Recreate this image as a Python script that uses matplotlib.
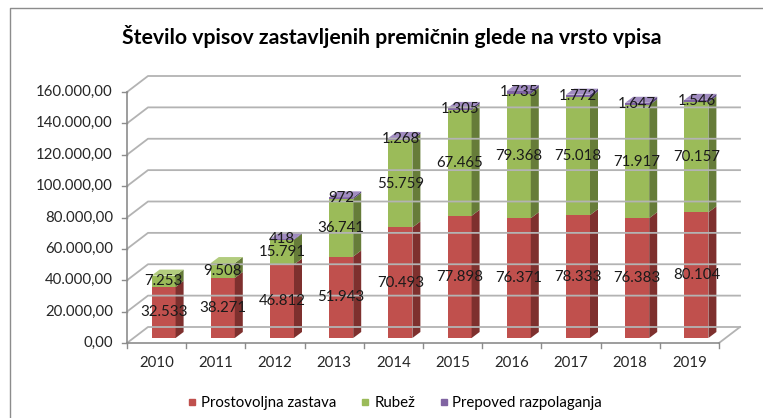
import matplotlib
matplotlib.use("Agg")
import matplotlib.pyplot as plt
from matplotlib.patches import Polygon
from matplotlib.lines import Line2D

years = ['2010', '2011', '2012', '2013', '2014', '2015', '2016', '2017', '2018', '2019']
prostovoljna = [32533, 38271, 46812, 51943, 70493, 77898, 76371, 78333, 76383, 80104]
rubez = [7253, 9508, 15791, 36741, 55759, 67465, 79368, 75018, 71917, 70157]
prepoved = [0, 0, 418, 972, 1268, 1305, 1735, 1772, 1647, 1546]
y_ticks = [0, 20000, 40000, 60000, 80000, 100000, 120000, 140000, 160000]
series_names = ['Prostovoljna zastava', 'Rubež', 'Prepoved razpolaganja']

plt.rcParams['font.family'] = ['Lato', 'DejaVu Sans']

W, H = 763, 418
fig = plt.figure(figsize=(W / 100, H / 100), dpi=100)

# front plane: x -0.5..9.5 -> px 127..719, y 0..160000 -> px 343..92
PX = 1 / 59.2            # data units per pixel, x
PY = 160000 / 251        # data units per pixel, y
DX, DY = 21 * PX, 16 * PY  # wall depth
ax = fig.add_axes([127 / W, (H - 343) / H, (740 - 127) / W, (343 - 76) / H])
ax.set_xlim(-0.5, 9.5 + DX)
ax.set_ylim(0, 160000 + DY)
ax.axis('off')

FS = 10.8
grid_c = '#b3b3b3'
axis_c = '#8c8c8c'
for v in y_ticks:
    ax.plot([-0.5, -0.5 + DX, 9.5 + DX], [v, v + DY, v + DY], color=grid_c, lw=1.3, clip_on=False)
    ax.plot([-0.5 - 5 * PX, -0.5], [v, v], color=axis_c, lw=1, clip_on=False)
    lab = f"{v:,.2f}".replace(',', ' ').replace('.', ',').replace(' ', '.')
    ax.text(-0.5 - 14 * PX, v, lab, ha='right', va='center', fontsize=FS, color='#262626')
ax.plot([9.5, 9.5 + DX], [0, DY], color=grid_c, lw=1.3, clip_on=False)
ax.plot([-0.5, 9.5], [0, 0], color=axis_c, lw=1.2, clip_on=False)
ax.plot([-0.5, -0.5], [0, 160000], color=axis_c, lw=1.2, clip_on=False)
for i in range(len(years) + 1):
    ax.plot([i - 0.5, i - 0.5], [0, -5 * PY], color=axis_c, lw=1, clip_on=False)
for i, y in enumerate(years):
    ax.text(i, -20 * PY, y, ha='center', va='center', fontsize=FS, color='#262626')

# bars
BW = 24 * PX
OX, OY = 7 * PX, 5 * PY
BDX, BDY = 8 * PX, 6 * PY
front = ['#c0504d', '#9bbb59', '#8064a2']
side = ['#7e302e', '#667c39', '#56437a']
top = ['#d0726f', '#b2cc7e', '#a08bc0']

for i in range(len(years)):
    vals = [prostovoljna[i], rubez[i], prepoved[i]]
    base = 0
    last = max(k for k in range(3) if vals[k] > 0)
    x0 = i + OX - BW / 2
    x1 = i + OX + BW / 2
    for k, val in enumerate(vals):
        if val <= 0:
            continue
        y0 = base + OY
        y1 = base + val + OY
        ax.add_patch(Polygon([(x0, y0), (x1, y0), (x1, y1), (x0, y1)], closed=True,
                             facecolor=front[k], edgecolor='none'))
        ax.add_patch(Polygon([(x1, y0), (x1 + BDX, y0 + BDY), (x1 + BDX, y1 + BDY), (x1, y1)],
                             closed=True, facecolor=side[k], edgecolor='none'))
        if k == last:
            ax.add_patch(Polygon([(x0, y1), (x1, y1), (x1 + BDX, y1 + BDY), (x0 + BDX, y1 + BDY)],
                                 closed=True, facecolor=top[k], edgecolor='none'))
        base += val
    base = 0
    for k, val in enumerate(vals):
        if val <= 0:
            continue
        ax.text(i + OX, base + OY + val / 2, f"{val:,}".replace(',', '.'),
                ha='center', va='center', fontsize=FS, color='#1a1a1a', zorder=5)
        base += val

fig.text(392 / W, 1 - 36 / H, 'Število vpisov zastavljenih premičnin glede na vrsto vpisa',
         ha='center', va='center', fontsize=15.3, fontweight='bold', color='#000000')

handles = [Line2D([], [], marker='s', ls='none', color=c, markersize=4.6) for c in front]
fig.legend(handles, series_names, loc='center', bbox_to_anchor=(395 / W, 1 - 403 / H),
           ncol=3, frameon=False, fontsize=FS, handlelength=0.6, handletextpad=0.3,
           columnspacing=1.6)

# chart border
fig.add_artist(Line2D([10 / W, 10 / W, 1], [0, 1 - 8 / H, 1 - 8 / H], color='#8c8c8c', lw=1))

fig.savefig('out.png', dpi=100)
